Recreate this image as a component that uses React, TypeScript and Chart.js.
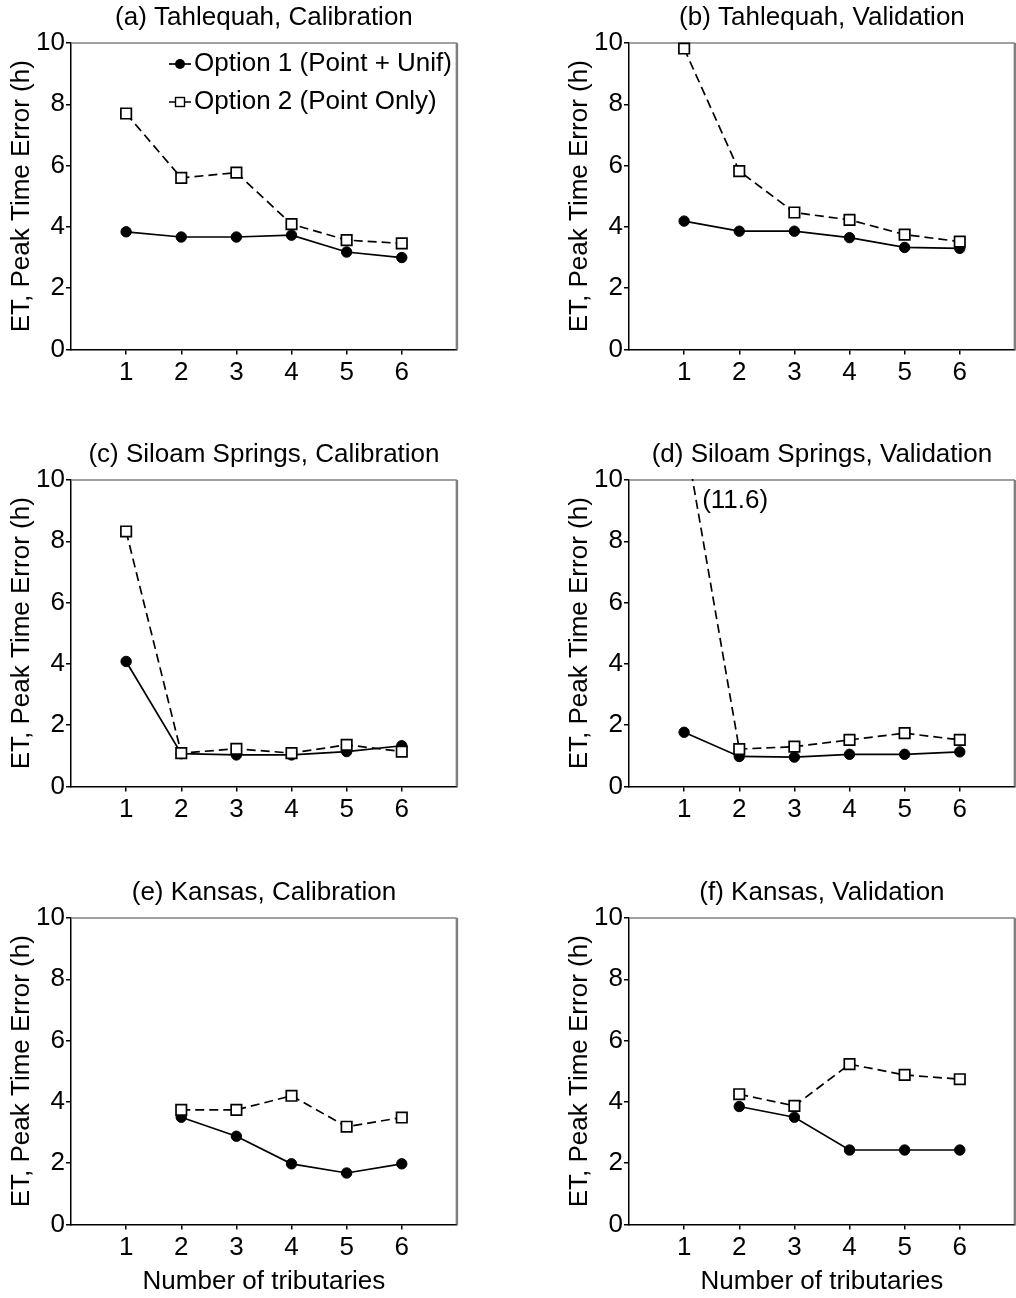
import React, { useEffect, useRef } from 'react';
import { Chart, registerables } from 'chart.js';

Chart.register(...registerables);

const FONT = "'Liberation Sans', Arial, Helvetica, sans-serif";

// ---------- data ----------
const tributaries = [1, 2, 3, 4, 5, 6];
const kansasTributaries = [2, 3, 4, 5, 6];
const xTickValues = [1, 2, 3, 4, 5, 6];
const yTickValues = [0, 2, 4, 6, 8, 10];
const seriesNames = ['Option 1 (Point + Unif)', 'Option 2 (Point Only)'];
const panelTitles = [
  '(a) Tahlequah, Calibration',
  '(b) Tahlequah, Validation',
  '(c) Siloam Springs, Calibration',
  '(d) Siloam Springs, Validation',
  '(e) Kansas, Calibration',
  '(f) Kansas, Validation',
];
const yAxisTitle = 'ET, Peak Time Error (h)';
const xAxisTitle = 'Number of tributaries';

const tahlequahCalOpt1 = [3.84, 3.67, 3.67, 3.73, 3.18, 3.0];
const tahlequahCalOpt2 = [7.7, 5.6, 5.77, 4.09, 3.57, 3.46];
const tahlequahValOpt1 = [4.19, 3.86, 3.86, 3.65, 3.33, 3.3];
const tahlequahValOpt2 = [9.82, 5.82, 4.47, 4.23, 3.75, 3.52];
const siloamCalOpt1 = [4.08, 1.07, 1.03, 1.03, 1.14, 1.33];
const siloamCalOpt2 = [8.32, 1.09, 1.23, 1.09, 1.36, 1.14];
const siloamValOpt1 = [1.77, 0.98, 0.96, 1.05, 1.05, 1.13];
const siloamValOpt2 = [11.6, 1.22, 1.3, 1.52, 1.74, 1.52];
const kansasCalOpt1 = [3.5, 2.88, 1.98, 1.68, 1.98];
const kansasCalOpt2 = [3.74, 3.74, 4.2, 3.19, 3.49];
const kansasValOpt1 = [3.85, 3.5, 2.43, 2.43, 2.43];
const kansasValOpt2 = [4.25, 3.87, 5.23, 4.88, 4.74];

// ---------- layout ----------
const CANVAS_W = 466;
const COL_LEFT = [0, 558];
const ROW_TOP = [0, 437, 875];
const ROW_H = [437, 437, 423];
const PLOT_TOP = 43;
const PLOT_H = 306.5;
const Y_AXIS_W = 71;

type PanelDef = {
  title: string;
  xs: number[];
  opt1: number[];
  opt2: number[];
  col: number;
  row: number;
  legend?: boolean;
  offscaleNote?: boolean;
};

const panels: PanelDef[] = [
  { title: panelTitles[0], xs: tributaries, opt1: tahlequahCalOpt1, opt2: tahlequahCalOpt2, col: 0, row: 0, legend: true },
  { title: panelTitles[1], xs: tributaries, opt1: tahlequahValOpt1, opt2: tahlequahValOpt2, col: 1, row: 0 },
  { title: panelTitles[2], xs: tributaries, opt1: siloamCalOpt1, opt2: siloamCalOpt2, col: 0, row: 1 },
  { title: panelTitles[3], xs: tributaries, opt1: siloamValOpt1, opt2: siloamValOpt2, col: 1, row: 1, offscaleNote: true },
  { title: panelTitles[4], xs: kansasTributaries, opt1: kansasCalOpt1, opt2: kansasCalOpt2, col: 0, row: 2 },
  { title: panelTitles[5], xs: kansasTributaries, opt1: kansasValOpt1, opt2: kansasValOpt2, col: 1, row: 2 },
];

const framePlugin = {
  id: 'grayFrame',
  beforeDatasetsDraw(chart: any) {
    const { ctx, chartArea } = chart;
    const { left, right, top, bottom } = chartArea;
    ctx.save();
    ctx.strokeStyle = '#808080';
    ctx.lineWidth = 1.5;
    ctx.beginPath();
    ctx.moveTo(left, top);
    ctx.lineTo(right, top);
    ctx.stroke();
    ctx.lineWidth = 2.5;
    ctx.beginPath();
    ctx.moveTo(right, top);
    ctx.lineTo(right, bottom);
    ctx.stroke();
    ctx.restore();
  },
};

const legendPlugin = {
  id: 'insideLegend',
  afterDatasetsDraw(chart: any, _args: any, opts: any) {
    if (!opts || !opts.show) return;
    const { ctx, chartArea } = chart;
    const items = [...chart.data.datasets].sort((a: any, b: any) => a.legendIndex - b.legendIndex);
    items.forEach((ds: any, i: number) => {
      const y = chartArea.top + 21 + i * 38;
      const cx = chartArea.left + 109;
      ctx.save();
      ctx.strokeStyle = '#000';
      ctx.lineWidth = ds.borderWidth;
      ctx.setLineDash(ds.borderDash || []);
      ctx.beginPath();
      ctx.moveTo(cx - 11, y);
      ctx.lineTo(cx + 11, y);
      ctx.stroke();
      ctx.setLineDash([]);
      if (ds.pointStyle === 'circle') {
        ctx.fillStyle = '#000';
        ctx.beginPath();
        ctx.arc(cx, y, 5, 0, Math.PI * 2);
        ctx.fill();
      } else {
        ctx.fillStyle = '#fff';
        ctx.lineWidth = 1.4;
        ctx.fillRect(cx - 4.5, y - 4.5, 9, 9);
        ctx.strokeRect(cx - 4.5, y - 4.5, 9, 9);
      }
      ctx.fillStyle = '#000';
      ctx.font = `26px ${FONT}`;
      ctx.textAlign = 'left';
      ctx.textBaseline = 'middle';
      ctx.fillText(ds.label, cx + 14, y);
      ctx.restore();
    });
  },
};

const notePlugin = {
  id: 'offscaleNote',
  afterDatasetsDraw(chart: any, _args: any, opts: any) {
    if (!opts || !opts.show) return;
    const { ctx, chartArea } = chart;
    const xs = chart.scales.x;
    const ds = chart.data.datasets.find((d: any) => d.legendIndex === 1);
    const first = ds.data[0];
    ctx.save();
    ctx.fillStyle = '#000';
    ctx.font = `26px ${FONT}`;
    ctx.textAlign = 'left';
    ctx.textBaseline = 'middle';
    ctx.fillText(`(${first.y})`, xs.getPixelForValue(first.x) + 18, chartArea.top + 21);
    ctx.restore();
  },
};

function PanelChart({ p }: { p: PanelDef }) {
  const ref = useRef<HTMLCanvasElement | null>(null);
  const height = ROW_H[p.row];
  const showXTitle = p.row === 2;
  useEffect(() => {
    if (!ref.current) return;
    const font = { family: FONT, size: 26, weight: 'normal' as const };
    const xAxisHeight = height - PLOT_TOP - PLOT_H;
    const chart = new Chart(ref.current, {
      type: 'line',
      data: {
        datasets: [
          {
            label: seriesNames[0],
            legendIndex: 0,
            order: 2,
            data: p.xs.map((x, i) => ({ x, y: p.opt1[i] })),
            borderColor: '#000',
            borderWidth: 1.7,
            pointStyle: 'circle',
            pointRadius: 5.2,
            pointBorderWidth: 1,
            pointBackgroundColor: '#000',
            pointBorderColor: '#000',
            fill: false,
            tension: 0,
            clip: 1,
          } as any,
          {
            label: seriesNames[1],
            legendIndex: 1,
            order: 1,
            data: p.xs.map((x, i) => ({ x, y: p.opt2[i] })),
            borderColor: '#000',
            borderWidth: 1.7,
            borderDash: [9, 5],
            pointStyle: 'rect',
            pointRadius: 7.4,
            pointBorderWidth: 1.7,
            pointBackgroundColor: '#fff',
            pointBorderColor: '#000',
            fill: false,
            tension: 0,
            clip: 1,
          } as any,
        ],
      },
      options: {
        animation: false,
        responsive: true,
        maintainAspectRatio: false,
        events: [],
        layout: { padding: { left: 0, right: 4, top: 0, bottom: 0 } },
        plugins: {
          legend: { display: false },
          tooltip: { enabled: false },
          title: {
            display: true,
            text: p.title,
            fullSize: false,
            color: '#000',
            font,
            padding: { top: 2, bottom: PLOT_TOP - 2 - 26 * 1.2 },
          },
          insideLegend: { show: !!p.legend },
          offscaleNote: { show: !!p.offscaleNote },
        } as any,
        scales: {
          x: {
            type: 'linear',
            min: 0,
            max: 7,
            afterBuildTicks: (s: any) => {
              s.ticks = xTickValues.map((v) => ({ value: v }));
            },
            afterFit: (s: any) => {
              s.height = xAxisHeight;
            },
            ticks: {
              color: '#000',
              font,
              padding: 3,
              autoSkip: false,
              maxRotation: 0,
              callback: (v: any) => String(v),
            },
            grid: {
              drawOnChartArea: false,
              drawTicks: true,
              tickLength: 5,
              color: '#000',
              lineWidth: 1.5,
            },
            border: { display: true, color: '#000', width: 1.5 },
            title: {
              display: showXTitle,
              text: xAxisTitle,
              color: '#000',
              font,
              padding: { top: 0, bottom: 1 },
            },
          },
          y: {
            type: 'linear',
            min: 0,
            max: 10,
            afterBuildTicks: (s: any) => {
              s.ticks = yTickValues.map((v) => ({ value: v }));
            },
            afterFit: (s: any) => {
              s.width = Y_AXIS_W;
            },
            ticks: {
              color: '#000',
              font,
              padding: 1,
              callback: (v: any) => String(v),
            },
            grid: {
              drawOnChartArea: false,
              drawTicks: true,
              tickLength: 5,
              color: '#000',
              lineWidth: 1.5,
            },
            border: { display: true, color: '#000', width: 1.5 },
            title: {
              display: true,
              text: yAxisTitle,
              color: '#000',
              font,
              padding: { top: 6.4, bottom: 0 },
            },
          },
        },
      } as any,
      plugins: [framePlugin, legendPlugin, notePlugin],
    });
    return () => chart.destroy();
  }, [p, height, showXTitle]);

  return (
    <div
      style={{
        position: 'absolute',
        left: COL_LEFT[p.col],
        top: ROW_TOP[p.row],
        width: CANVAS_W,
        height,
      }}
    >
      <canvas ref={ref} />
    </div>
  );
}

export default function App() {
  return (
    <div
      style={{
        position: 'absolute',
        left: 0,
        top: 0,
        width: 1016,
        height: 1298,
        overflow: 'hidden',
        background: '#fff',
      }}
    >
      {panels.map((p, i) => (
        <PanelChart key={i} p={p} />
      ))}
    </div>
  );
}
